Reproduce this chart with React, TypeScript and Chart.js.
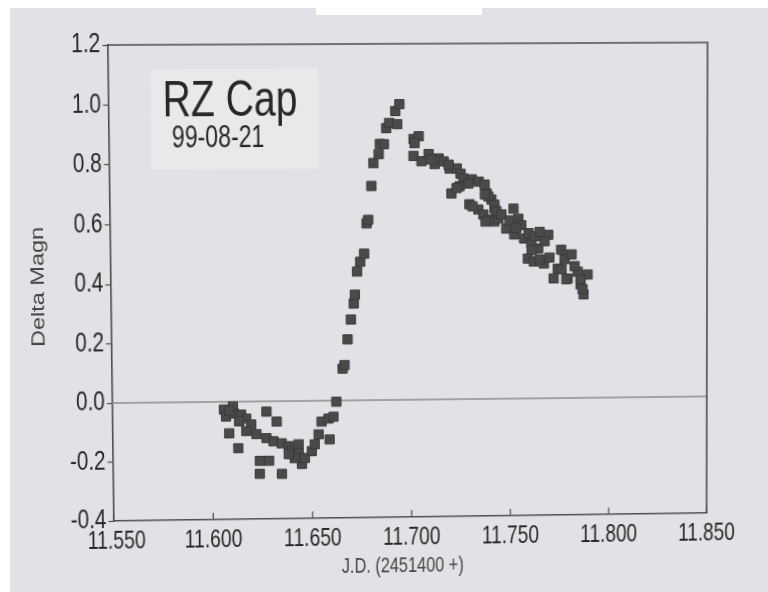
import React, { useEffect, useRef } from "react";
import { Chart, registerables } from "chart.js";

Chart.register(...registerables);

const chartTitle = "RZ Cap";
const chartDate = "99-08-21";
const xAxisTitle = "J.D. (2451400 +)";
const yAxisTitle = "Delta Magn";

const xMin = 11.55;
const xMax = 11.85;
const xStep = 0.05;
const yMin = -0.4;
const yMax = 1.2;
const yStep = 0.2;

const jdValues = [
  11.6059, 11.6104, 11.6069, 11.6109, 11.6145, 11.617, 11.6134, 11.6195, 11.6084, 11.6129,
  11.6272, 11.6323, 11.6221, 11.6271, 11.6306, 11.6347, 11.6382, 11.6397, 11.6432, 11.6237,
  11.6283, 11.6236, 11.6347, 11.6448, 11.6463, 11.6498, 11.6513, 11.6533, 11.6548, 11.6583,
  11.6608, 11.6588, 11.6623, 11.6432, 11.6412, 11.6382, 11.6085, 11.617,
  11.6656, 11.6666, 11.6682, 11.6699, 11.6714, 11.672, 11.6732, 11.6748, 11.6768, 11.6781,
  11.6789, 11.6806, 11.6817, 11.6844, 11.685, 11.687, 11.6882, 11.6897, 11.6937, 11.6928, 11.6949,
  11.7019, 11.7045, 11.7024, 11.7018, 11.7058, 11.7094, 11.7124, 11.7144, 11.7169, 11.7199,
  11.7235, 11.7254, 11.7269, 11.731, 11.7345, 11.7249, 11.7208, 11.7385, 11.7409, 11.7298,
  11.7343, 11.7368, 11.7393, 11.7423, 11.7424, 11.7375, 11.7394, 11.7424, 11.7443, 11.7483,
  11.752, 11.7544, 11.7523, 11.7573, 11.7609, 11.7695, 11.7644, 11.7592, 11.7622, 11.7673,
  11.776, 11.7785, 11.7743, 11.7722, 11.7793, 11.7844, 11.7858, 11.7894, 11.7873,
  11.7107, 11.7194, 11.7294, 11.7234, 11.7314, 11.7379, 11.7434, 11.7376, 11.7459, 11.7499,
  11.7559, 11.7534, 11.7596, 11.7626, 11.7652, 11.7677, 11.7611, 11.7651, 11.7701, 11.7777,
  11.7813, 11.7828, 11.7762, 11.7858, 11.7868, 11.7786,
];

const deltaMagn = [
  -0.026, -0.016, -0.05, -0.04, -0.044, -0.058, -0.067, -0.078, -0.107, -0.158,
  -0.035, -0.069, -0.111, -0.125, -0.136, -0.143, -0.153, -0.17, -0.177, -0.202,
  -0.202, -0.246, -0.247, -0.214, -0.194, -0.171, -0.148, -0.114, -0.071, -0.061,
  -0.055, -0.132, -0.004, -0.147, -0.194, -0.18, -0.03, -0.1,
  0.108, 0.12, 0.207, 0.274, 0.328, 0.358, 0.436, 0.469, 0.496, 0.598,
  0.61, 0.724, 0.801, 0.831, 0.865, 0.864, 0.918, 0.935, 0.931, 0.975, 0.998,
  0.881, 0.89, 0.867, 0.824, 0.806, 0.83, 0.796, 0.815, 0.805, 0.781,
  0.781, 0.763, 0.747, 0.744, 0.736, 0.721, 0.697, 0.696, 0.675, 0.66,
  0.642, 0.625, 0.608, 0.601, 0.645, 0.726, 0.686, 0.658, 0.611, 0.577,
  0.644, 0.61, 0.557, 0.543, 0.526, 0.555, 0.509, 0.475, 0.465, 0.458,
  0.504, 0.487, 0.44, 0.407, 0.406, 0.429, 0.386, 0.419, 0.352,
  0.812, 0.794, 0.73, 0.715, 0.653, 0.601, 0.636, 0.693, 0.625, 0.604,
  0.588, 0.578, 0.561, 0.55, 0.565, 0.533, 0.505, 0.472, 0.478, 0.472,
  0.488, 0.448, 0.438, 0.403, 0.37, 0.404,
];

// plot-area corners on the canvas, and where the photographed frame puts them
const srcCorners = [[110.5, 41], [704, 41], [110.5, 517], [704, 517]];
const dstCorners = [[107.5, 45], [707.5, 42.5], [113.5, 521], [706.5, 513]];

function homographyCss(src: number[][], dst: number[][]): string {
  const A: number[][] = [];
  const B: number[] = [];
  for (let i = 0; i < 4; i++) {
    const [x, y] = src[i];
    const [u, v] = dst[i];
    A.push([x, y, 1, 0, 0, 0, -x * u, -y * u]);
    B.push(u);
    A.push([0, 0, 0, x, y, 1, -x * v, -y * v]);
    B.push(v);
  }
  const n = 8;
  for (let c = 0; c < n; c++) {
    let p = c;
    for (let r = c + 1; r < n; r++) if (Math.abs(A[r][c]) > Math.abs(A[p][c])) p = r;
    [A[c], A[p]] = [A[p], A[c]];
    [B[c], B[p]] = [B[p], B[c]];
    for (let r = 0; r < n; r++) {
      if (r === c) continue;
      const f = A[r][c] / A[c][c];
      for (let k = c; k < n; k++) A[r][k] -= f * A[c][k];
      B[r] -= f * B[c];
    }
  }
  const h = B.map((b, i) => b / A[i][i]);
  const [a, b, c, d, e, f, g, hh] = h;
  return `matrix3d(${a},${d},0,${g},${b},${e},0,${hh},0,0,1,0,${c},${f},0,1)`;
}

const FONT = "'Liberation Sans', Arial, sans-serif";
const INK = "#272727";
const AXIS = "#4e4e4e";

function drawText(
  ctx: CanvasRenderingContext2D,
  text: string,
  x: number,
  y: number,
  size: number,
  sx: number,
  align: CanvasTextAlign,
  color: string,
  rotate = 0
) {
  ctx.save();
  ctx.translate(x, y);
  ctx.scale(sx, 1);
  if (rotate) ctx.rotate(rotate);
  ctx.font = `${size}px ${FONT}`;
  ctx.fillStyle = color;
  ctx.textAlign = align;
  ctx.textBaseline = "middle";
  ctx.fillText(text, 0, 0);
  ctx.restore();
}

const framePlugin = {
  id: "frame",
  beforeDatasetsDraw(chart: any) {
    const { ctx, chartArea, scales } = chart;
    const { left, right, top, bottom } = chartArea;
    ctx.save();
    // annotation box
    ctx.fillStyle = "#e9e8eb";
    ctx.fillRect(152, 65, 165, 100);
    drawText(ctx, chartTitle, 230, 98, 50, 0.77, "center", INK);
    drawText(ctx, chartDate, 218, 134, 32, 0.71, "center", INK);
    // zero line
    const y0 = scales.y.getPixelForValue(0);
    ctx.strokeStyle = "#8c8c8c";
    ctx.lineWidth = 1.3;
    ctx.beginPath();
    ctx.moveTo(left, y0);
    ctx.lineTo(right, y0);
    ctx.stroke();
    // top and right frame
    ctx.strokeStyle = AXIS;
    ctx.lineWidth = 1.6;
    ctx.beginPath();
    ctx.moveTo(left, top);
    ctx.lineTo(right, top);
    ctx.lineTo(right, bottom);
    ctx.stroke();
    // inner x ticks
    ctx.lineWidth = 1.2;
    ctx.beginPath();
    for (const t of scales.x.ticks) {
      const px = scales.x.getPixelForValue(t.value);
      ctx.moveTo(px, bottom);
      ctx.lineTo(px, bottom - 7);
    }
    ctx.stroke();
    // tick labels (condensed, as in the reference)
    for (const t of scales.y.ticks) {
      const py = scales.y.getPixelForValue(t.value);
      const lbl = Math.abs(t.value) < 1e-9 ? "0.0" : Number(t.value).toFixed(1);
      drawText(ctx, lbl, left - 7, py, 27, 0.76, "right", INK);
    }
    scales.x.ticks.forEach((t: any, i: number) => {
      const px = scales.x.getPixelForValue(t.value) + (i === 0 ? 3 : 0);
      drawText(ctx, Number(t.value).toFixed(3), px, bottom + 21, 26, 0.74, "center", INK);
    });
    // axis titles
    drawText(ctx, xAxisTitle, 398, 567, 21.5, 0.76, "center", "#444");
    drawText(ctx, yAxisTitle, 40, (top + bottom) / 2 + 2, 23.5, 0.78, "center", "#444", -Math.PI / 2);
    ctx.restore();
  },
};

export default function App() {
  const ref = useRef<HTMLCanvasElement | null>(null);

  useEffect(() => {
    if (!ref.current) return;
    const points = jdValues.map((x, i) => ({ x, y: deltaMagn[i] }));
    const chart = new Chart(ref.current, {
      type: "scatter",
      data: {
        datasets: [
          {
            data: points,
            pointStyle: "rect",
            pointRadius: 6.5,
            pointBackgroundColor: "#4a4a4a",
            pointBorderColor: "#3a3a3a",
            pointBorderWidth: 1,
          },
        ],
      },
      options: {
        animation: false,
        responsive: false,
        devicePixelRatio: 1,
        layout: { padding: { left: 0, top: 41, right: 64, bottom: 0 } },
        plugins: { legend: { display: false }, tooltip: { enabled: false } },
        scales: {
          x: {
            type: "linear",
            min: xMin,
            max: xMax,
            afterFit: (s: any) => {
              s.height = 75;
            },
            ticks: { stepSize: xStep, display: false },
            grid: { display: true, drawOnChartArea: false, drawTicks: false },
            border: { display: true, color: AXIS, width: 1.6 },
          },
          y: {
            type: "linear",
            min: yMin,
            max: yMax,
            afterFit: (s: any) => {
              s.width = 110.5;
            },
            ticks: { stepSize: yStep, display: false },
            grid: { display: true, drawOnChartArea: false, drawTicks: true, tickLength: 5, color: AXIS, tickWidth: 1.2 },
            border: { display: true, color: AXIS, width: 1.6 },
          },
        },
      },
      plugins: [framePlugin],
    });
    return () => chart.destroy();
  }, []);

  const transform = homographyCss(srcCorners, dstCorners);

  return (
    <div style={{ position: "fixed", left: 0, top: 0, width: 768, height: 592, background: "#ffffff", overflow: "hidden" }}>
      <div style={{ position: "absolute", left: 10, top: 8, right: 0, bottom: 0, background: "#e2e1e5" }} />
      <div style={{ position: "absolute", left: 316, top: 8, width: 166, height: 7, background: "#ffffff" }} />
      <div style={{ position: "absolute", left: 0, top: 0, width: 768, height: 592, transform, transformOrigin: "0 0" }}>
        <canvas ref={ref} width={768} height={592} style={{ display: "block" }} />
      </div>
    </div>
  );
}
